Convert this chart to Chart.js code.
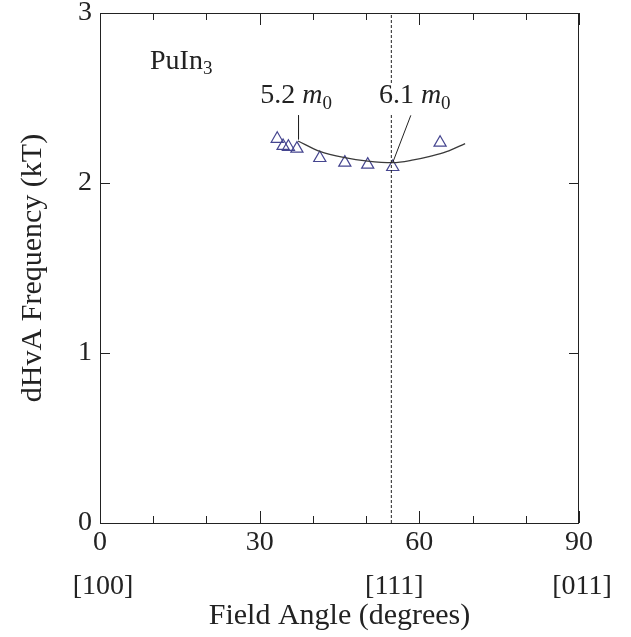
<!DOCTYPE html>
<html>
<head>
<meta charset="utf-8">
<script src="https://cdn.jsdelivr.net/npm/chart.js@4.4.1/dist/chart.umd.min.js"></script>
<style>
  html, body { margin: 0; padding: 0; background: #fff; }
</style>
</head>
<body>
<canvas id="chart" width="631" height="637"></canvas>
<script>
// measured dHvA branch (triangles)
const obsAngles = [33.3, 34.4, 35.4, 37.0, 41.3, 46.0, 50.3, 55.0, 63.9];
const obsFreqs = [2.26, 2.218, 2.213, 2.202, 2.147, 2.12, 2.108, 2.094, 2.237];
// calculated branch (solid curve)
const fitAngles = [37.2, 41.3, 46.0, 50.3, 55.0, 58.9, 62.0, 65.1, 68.6];
const fitFreqs = [2.247, 2.186, 2.149, 2.129, 2.12, 2.136, 2.157, 2.184, 2.232];
// [111] direction marker
const dashAngle = 54.74;
const dirAngles = [0, 54.74, 90];
const dirLabels = ['[100]', '[111]', '[011]'];
const xMajor = [0, 30, 60, 90];
const yTicks = [0, 1, 2, 3];
// effective mass labels and their leader lines
const massValues = ['5.2', '6.1'];
const massAngles = [30.1, 52.4];
const massFreq = 2.47;
const leaderA = [{x: 37.3, y: 2.398}, {x: 37.3, y: 2.257}];
const leaderB = [{x: 58.4, y: 2.398}, {x: 55.0, y: 2.12}];

const SERIF = '"Liberation Serif", "Times New Roman", serif';
const INK = '#222';

const overlay = {
  id: 'overlay',
  afterDatasetsDraw(chart) {
    const {ctx, scales: {x, y}} = chart;
    ctx.save();
    ctx.fillStyle = INK;
    ctx.textBaseline = 'alphabetic';
    // compound name
    const px = x.getPixelForValue(9.4), py = y.getPixelForValue(2.669);
    ctx.font = '28px ' + SERIF;
    ctx.fillText('PuIn', px, py);
    const pw = ctx.measureText('PuIn').width;
    ctx.font = '19px ' + SERIF;
    ctx.fillText('3', px + pw, py + 5);
    // mass labels
    massValues.forEach((v, i) => {
      const lx = x.getPixelForValue(massAngles[i]), ly = y.getPixelForValue(massFreq);
      ctx.font = '28px ' + SERIF;
      const a = ctx.measureText(v + ' ').width;
      ctx.font = 'italic 28px ' + SERIF;
      const b = ctx.measureText('m').width;
      ctx.font = '19px ' + SERIF;
      const c = ctx.measureText('0').width;
      ctx.fillStyle = '#fff';
      ctx.fillRect(lx - 2, ly - 19, a + b + c + 4, 29);
      ctx.fillStyle = INK;
      ctx.font = '28px ' + SERIF;
      ctx.fillText(v + ' ', lx, ly);
      ctx.font = 'italic 28px ' + SERIF;
      ctx.fillText('m', lx + a, ly);
      ctx.font = '19px ' + SERIF;
      ctx.fillText('0', lx + a + b, ly + 6);
    });
    ctx.restore();
  },
  afterDraw(chart) {
    const {ctx, chartArea: a, scales: {x, y}} = chart;
    ctx.save();
    ctx.strokeStyle = INK;
    ctx.lineWidth = 1;
    ctx.strokeRect(a.left + 0.5, a.top + 0.5, a.right - a.left - 1, a.bottom - a.top);
    ctx.beginPath();
    for (let v = 0; v <= 90; v += 10) {
      const px = Math.round(x.getPixelForValue(v)) + 0.5;
      const len = xMajor.includes(v) ? 12 : 7;
      ctx.moveTo(px, a.bottom); ctx.lineTo(px, a.bottom - len);
      ctx.moveTo(px, a.top); ctx.lineTo(px, a.top + len);
    }
    yTicks.forEach(v => {
      const py = Math.round(y.getPixelForValue(v)) + 0.5;
      ctx.moveTo(a.left, py); ctx.lineTo(a.left + 10, py);
      ctx.moveTo(a.right, py); ctx.lineTo(a.right - 10, py);
    });
    ctx.stroke();
    // crystal directions under the axis
    ctx.fillStyle = INK;
    ctx.font = '28px ' + SERIF;
    ctx.textAlign = 'center';
    ctx.textBaseline = 'middle';
    dirLabels.forEach((t, i) => {
      ctx.fillText(t, x.getPixelForValue(dirAngles[i]) + 3, a.bottom + 64);
    });
    ctx.restore();
  }
};

new Chart(document.getElementById('chart'), {
  type: 'scatter',
  data: {
    datasets: [
      {
        label: 'dash',
        type: 'line',
        data: [{x: dashAngle, y: 0}, {x: dashAngle, y: 3}],
        borderColor: INK,
        borderWidth: 1,
        borderDash: [3, 2],
        pointRadius: 0
      },
      {
        label: 'calc',
        type: 'line',
        data: fitAngles.map((a, i) => ({x: a, y: fitFreqs[i]})),
        borderColor: '#3a3a3a',
        borderWidth: 1.3,
        cubicInterpolationMode: 'monotone',
        pointRadius: 0
      },
      {
        label: 'leaderA',
        type: 'line',
        data: leaderA,
        borderColor: INK,
        borderWidth: 1,
        pointRadius: 0
      },
      {
        label: 'leaderB',
        type: 'line',
        data: leaderB,
        borderColor: INK,
        borderWidth: 1,
        pointRadius: 0
      },
      {
        label: 'obs',
        data: obsAngles.map((a, i) => ({x: a, y: obsFreqs[i]})),
        pointStyle: 'triangle',
        pointRadius: 7,
        borderColor: '#45458f',
        backgroundColor: 'rgba(0,0,0,0)',
        borderWidth: 1.2
      }
    ]
  },
  options: {
    responsive: false,
    animation: false,
    devicePixelRatio: 1,
    layout: { padding: { top: 13, right: 52, bottom: 0, left: 0 } },
    plugins: { legend: { display: false }, tooltip: { enabled: false } },
    scales: {
      x: {
        type: 'linear',
        min: 0, max: 90,
        grid: { display: false, drawTicks: false },
        border: { display: false },
        ticks: {
          stepSize: 10,
          autoSkip: false,
          maxRotation: 0,
          padding: 3,
          color: INK,
          font: { family: SERIF, size: 28 },
          callback: v => xMajor.includes(v) ? String(v) : ''
        },
        title: {
          display: true,
          text: 'Field Angle (degrees)',
          color: INK,
          font: { family: SERIF, size: 30 },
          padding: { top: 0, bottom: 3 }
        },
        afterFit: s => { s.height = 114; }
      },
      y: {
        type: 'linear',
        min: 0, max: 3,
        grid: { display: false, drawTicks: false },
        border: { display: false },
        ticks: {
          stepSize: 1,
          padding: 8,
          color: INK,
          font: { family: SERIF, size: 28, lineHeight: 0.3 },
          callback: v => yTicks.includes(v) ? String(v) : ''
        },
        title: {
          display: true,
          text: 'dHvA Frequency (kT)',
          color: INK,
          font: { family: SERIF, size: 30 },
          padding: { top: 15, bottom: 0 }
        },
        afterFit: s => { s.width = 100; }
      }
    }
  },
  plugins: [overlay]
});
</script>
</body>
</html>
